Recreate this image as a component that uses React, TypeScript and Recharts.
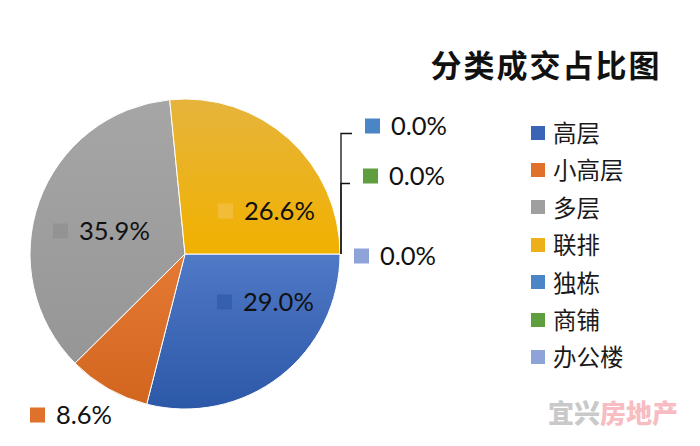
import React from 'react';
import { PieChart, Pie, Cell, Legend } from 'recharts';

const categories = ['高层', '小高层', '多层', '联排', '独栋', '商铺', '办公楼'];
const shares = [29.0, 8.6, 35.9, 26.6, 0.0, 0.0, 0.0];
const labelTexts = ['29.0%', '8.6%', '35.9%', '26.6%', '0.0%', '0.0%', '0.0%'];
const title = '分类成交占比图';

const data = categories.map((name, i) => ({ name, value: shares[i] }));

// styles
const colors = ['#3a64b6', '#e0712a', '#9f9f9f', '#edb01a', '#4a86c6', '#5e9e3c', '#8ea4d8'];
const gradTop = ['#5079c6', '#e57a35', '#a6a6a6', '#e6b43c', '#4a86c6', '#5e9e3c', '#8ea4d8'];
const gradBottom = ['#2c58a8', '#d2661f', '#969696', '#f1b100', '#4a86c6', '#5e9e3c', '#8ea4d8'];
const keyColors = ['#3560b0', '#e0712a', '#939393', '#f3bc36', '#4a86c6', '#5e9e3c', '#8ea4d8'];
// label anchor offsets from pie centre (square left, square centre y)
const labelOffsets: [number, number][] = [
  [32, 48],
  [-155, 161],
  [-132, -23],
  [33, -43],
  [180, -128],
  [178, -78],
  [169, 2],
];

const FONT = 'Lato, "Noto Sans", "Noto Sans CJK SC", sans-serif';
const CJK = '"Noto Sans CJK SC", "Noto Sans", sans-serif';

const renderLabel = (props: any) => {
  const { cx, cy, outerRadius, index } = props;
  const [dx, dy] = labelOffsets[index];
  const x = cx + dx;
  const y = cy + dy;
  const sq = 15;
  const lead =
    index === 4 || index === 5 ? (
      <path
        d={`M${cx + outerRadius + 1},${cy} V${y + sq / 2} H${x - 13}`}
        stroke="#111"
        strokeWidth={1.3}
        fill="none"
      />
    ) : null;
  return (
    <g key={`lbl-${index}`}>
      {lead}
      <rect x={x} y={y - sq / 2} width={sq} height={sq} fill={keyColors[index]} />
      <text x={x + 26} y={y + 9} fontFamily={FONT} fontSize={25.5} fill="#111">
        {labelTexts[index]}
      </text>
    </g>
  );
};

const renderLegend = () => (
  <div style={{ fontFamily: CJK }}>
    {categories.map((c, i) => (
      <div key={c} style={{ display: 'flex', alignItems: 'center', height: 37.4 }}>
        <div style={{ width: 14, height: 14, background: colors[i], marginRight: 8 }} />
        <span style={{ fontSize: 23.5, color: '#1a1a1a', lineHeight: 1 }}>{c}</span>
      </div>
    ))}
  </div>
);

export default function App() {
  return (
    <div style={{ position: 'absolute', left: 0, top: 0, width: 700, height: 446, background: '#fff' }}>
      <PieChart width={700} height={446} margin={{ top: 0, right: 0, bottom: 0, left: 0 }}>
        <defs>
          {colors.map((c, i) => (
            <linearGradient key={i} id={`g${i}`} x1="0" y1="0" x2="0" y2="1">
              <stop offset="0%" stopColor={gradTop[i]} />
              <stop offset="100%" stopColor={gradBottom[i]} />
            </linearGradient>
          ))}
        </defs>
        <Pie
          data={data}
          dataKey="value"
          nameKey="name"
          cx={185}
          cy={254}
          outerRadius={155}
          startAngle={0}
          endAngle={-360}
          stroke="#fff"
          strokeWidth={1}
          label={renderLabel}
          labelLine={false}
          isAnimationActive={false}
        >
          {data.map((d, i) => (
            <Cell key={d.name} fill={`url(#g${i})`} />
          ))}
        </Pie>
        <Legend
          content={renderLegend}
          layout="vertical"
          wrapperStyle={{ position: 'absolute', left: 531, top: 114, width: 160 }}
        />
      </PieChart>
      <div
        style={{
          position: 'absolute',
          left: 420,
          top: 44,
          width: 252,
          textAlign: 'center',
          fontFamily: CJK,
          fontWeight: 700,
          fontSize: 31,
          lineHeight: '40px',
          color: '#111',
          letterSpacing: 2,
        }}
      >
        {title}
      </div>
      <div
        style={{
          position: 'absolute',
          left: 548,
          top: 396,
          fontFamily: CJK,
          fontWeight: 900,
          fontSize: 26,
          lineHeight: '32px',
          opacity: 0.45,
        }}
      >
        <span style={{ color: '#8a8a8a' }}>宜兴</span>
        <span style={{ color: '#ee6e7c' }}>房地产</span>
      </div>
    </div>
  );
}
